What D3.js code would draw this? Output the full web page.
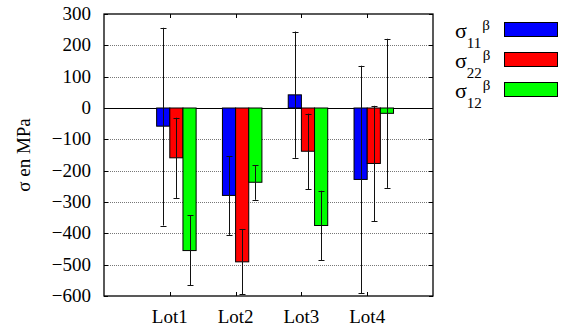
<!DOCTYPE html>
<html><head><meta charset="utf-8">
<script src="https://cdn.jsdelivr.net/npm/d3@7"></script>
<style>body{margin:0;background:#fff}svg{display:block}</style>
</head><body>
<script>
const categories = ["Lot1","Lot2","Lot3","Lot4"];
const seriesNames = ["11","22","12"];
const s11 = [-58, -279, 42, -228];
const s11Lo = [-375, -405, -159, -591];
const s11Hi = [256, -153, 244, 135];
const s22 = [-159, -491, -138, -177];
const s22Lo = [-287, -595, -260, -362];
const s22Hi = [-31, -386, -18, 7];
const s12 = [-455, -237, -375, -17];
const s12Lo = [-565, -293, -486, -255];
const s12Hi = [-343, -183, -264, 221];
const yTicks = [300,200,100,0,-100,-200,-300,-400,-500,-600];
const colors = ["#0000ff","#ff0000","#00ff00"];

const FONT = "Liberation Serif";
const W=562,H=329;
const L=104,R=433,T=14,B=296;
const svg=d3.select("body").append("svg").attr("width",W).attr("height",H);
const x=d3.scaleLinear().domain([-1,4]).range([L,R]);
const y=d3.scaleLinear().domain([-600,300]).range([B,T]);
const bw=0.2;
const series=[
 {vals:s11,lo:s11Lo,hi:s11Hi},
 {vals:s22,lo:s22Lo,hi:s22Hi},
 {vals:s12,lo:s12Lo,hi:s12Hi}];

// grid
svg.append("g").selectAll("line").data(yTicks.filter(v=>v!==0&&v!==300&&v!==-600)).join("line")
 .attr("x1",L).attr("x2",R).attr("y1",d=>Math.round(y(d))+0.5).attr("y2",d=>Math.round(y(d))+0.5)
 .attr("stroke","#777").attr("stroke-width",1).attr("stroke-dasharray","1,1");
// zero line
svg.append("line").attr("x1",L).attr("x2",R).attr("y1",Math.round(y(0))+0.5).attr("y2",Math.round(y(0))+0.5)
 .attr("stroke","#000").attr("stroke-width",1);

// bars
series.forEach((s,i)=>{
 const g=svg.append("g");
 g.selectAll("rect").data(s.vals).join("rect")
  .attr("x",(d,j)=>x(j+(i-1)*bw))
  .attr("width",x(bw)-x(0))
  .attr("y",d=>y(Math.max(0,d)))
  .attr("height",d=>Math.abs(y(d)-y(0)))
  .attr("fill",colors[i]).attr("stroke","#000").attr("stroke-width",1);
});
// error bars
series.forEach((s,i)=>{
 const g=svg.append("g").attr("stroke","#111").attr("stroke-width",1);
 s.vals.forEach((d,j)=>{
  const cx=Math.round(x(j+(i-1)*bw+bw/2))+0.5;
  g.append("line").attr("x1",cx).attr("x2",cx).attr("y1",y(s.lo[j])).attr("y2",y(s.hi[j]));
  [s.lo[j],s.hi[j]].forEach(v=>{
   g.append("line").attr("x1",cx-3).attr("x2",cx+3).attr("y1",Math.round(y(v))+0.5).attr("y2",Math.round(y(v))+0.5);
  });
 });
});

// frame
svg.append("rect").attr("x",L).attr("y",T).attr("width",R-L).attr("height",B-T)
 .attr("fill","none").attr("stroke","#000").attr("stroke-width",1.3);
// ticks
const yt=svg.append("g").attr("stroke","#000").attr("stroke-width",1);
yTicks.forEach(v=>{
 const yy=Math.round(y(v))+0.5;
 yt.append("line").attr("x1",L).attr("x2",L+4).attr("y1",yy).attr("y2",yy);
 yt.append("line").attr("x1",R-4).attr("x2",R).attr("y1",yy).attr("y2",yy);
});
categories.forEach((c,j)=>{
 const xx=Math.round(x(j))+0.5;
 yt.append("line").attr("x1",xx).attr("x2",xx).attr("y1",B).attr("y2",B-4);
 yt.append("line").attr("x1",xx).attr("x2",xx).attr("y1",T).attr("y2",T+4);
});
// y labels
yTicks.forEach(v=>{
 svg.append("text").attr("font-family",FONT).attr("font-size",19)
  .attr("x",91).attr("y",y(v)+6).attr("text-anchor","end")
  .text(v<0?"\u2212"+Math.abs(v):String(v));
});
// x labels
categories.forEach((c,j)=>{
 svg.append("text").attr("font-family",FONT).attr("font-size",19)
  .attr("x",x(j)).attr("y",323).attr("text-anchor","middle").text(c);
});
// y title
svg.append("text").attr("font-family",FONT).attr("font-size",19)
 .attr("transform","translate(30,155) rotate(-90)").attr("text-anchor","middle")
 .text("\u03c3 en MPa");

// legend
seriesNames.forEach((n,i)=>{
 const oy=i*30;
 const t=svg.append("text").attr("font-family",FONT).attr("font-size",22).attr("x",455).attr("y",38+oy);
 t.append("tspan").text("\u03c3");
 t.append("tspan").attr("font-size",15).attr("dy",10).text(n);
 t.append("tspan").attr("font-size",15).attr("dy",-18).attr("dx",1).text("\u03b2");
 svg.append("rect").attr("x",504.5).attr("y",22.5+oy).attr("width",53).attr("height",14)
  .attr("fill",colors[i]).attr("stroke","#000").attr("stroke-width",1);
});
</script>
</body></html>
